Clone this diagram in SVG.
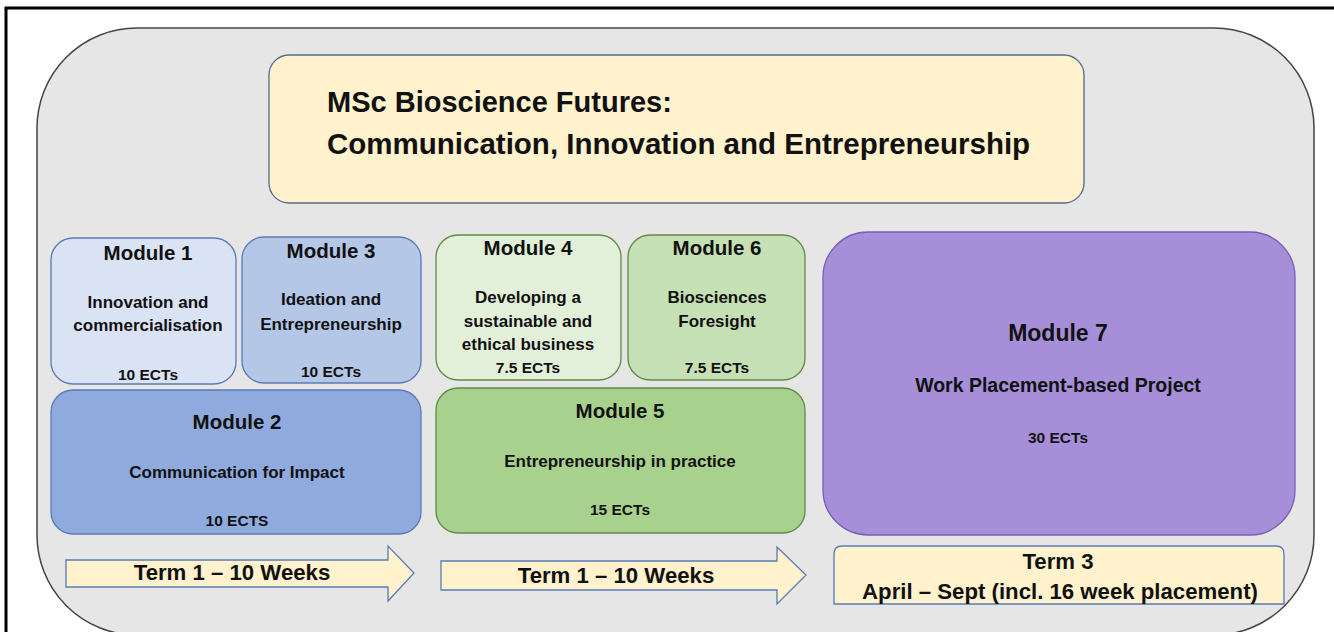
<svg xmlns="http://www.w3.org/2000/svg" width="1334" height="632" viewBox="0 0 1334 632">
<style>
text{font-family:"Liberation Sans",Arial,sans-serif;font-weight:bold;fill:#111;text-anchor:middle}
.h{font-size:20.5px}
.b{font-size:17px}
.e{font-size:15.5px}
.t{font-size:22.2px}
.blue{stroke:#5a7bb5;stroke-width:1.3}
.green{stroke:#5f8a47;stroke-width:1.3}
</style>
<rect x="0" y="0" width="1334" height="632" fill="#fff"/>
<rect x="6" y="8" width="1340" height="640" fill="none" stroke="#000" stroke-width="3"/>
<rect id="background" x="37" y="28" width="1277" height="607" rx="100" fill="#e6e6e6" stroke="#444" stroke-width="1.5"/>
<g id="title">
<rect x="269" y="55" width="815" height="148" rx="20" fill="#fff2cc" stroke="#55698c" stroke-width="1.3"/>
<text x="327" y="112" style="font-size:29px;text-anchor:start">MSc Bioscience Futures:</text>
<text x="327" y="154" style="font-size:29.5px;text-anchor:start">Communication, Innovation and Entrepreneurship</text>
</g>
<g id="module1">
<rect x="51" y="238" width="185" height="146" rx="22" fill="#dae3f3" class="blue"/>
<text x="148" y="260" class="h">Module 1</text>
<text x="148" y="308" class="b">Innovation and</text>
<text x="148" y="331" class="b">commercialisation</text>
<text x="148" y="380" class="e">10 ECTs</text>
</g>
<g id="module3">
<rect x="242" y="237" width="179" height="146" rx="22" fill="#b4c7e7" class="blue"/>
<text x="331" y="258" class="h">Module 3</text>
<text x="331" y="305" class="b">Ideation and</text>
<text x="331" y="330" class="b">Entrepreneurship</text>
<text x="331" y="377" class="e">10 ECTs</text>
</g>
<g id="module2">
<rect x="51" y="390" width="370" height="144" rx="22" fill="#8faadc" class="blue"/>
<text x="237" y="429" class="h">Module 2</text>
<text x="237" y="478" class="b">Communication for Impact</text>
<text x="237" y="526" class="e">10 ECTS</text>
</g>
<g id="module4">
<rect x="436" y="235" width="185" height="145" rx="22" fill="#e2f0d9" class="green"/>
<text x="528" y="255" class="h">Module 4</text>
<text x="528" y="303" class="b">Developing a</text>
<text x="528" y="327" class="b">sustainable and</text>
<text x="528" y="350" class="b">ethical business</text>
<text x="528" y="373" class="e">7.5 ECTs</text>
</g>
<g id="module6">
<rect x="628" y="235" width="177" height="145" rx="22" fill="#c5e0b4" class="green"/>
<text x="717" y="255" class="h">Module 6</text>
<text x="717" y="303" class="b">Biosciences</text>
<text x="717" y="327" class="b">Foresight</text>
<text x="717" y="373" class="e">7.5 ECTs</text>
</g>
<g id="module5">
<rect x="436" y="388" width="369" height="145" rx="22" fill="#a9d18e" class="green"/>
<text x="620" y="418" class="h">Module 5</text>
<text x="620" y="467" class="b">Entrepreneurship in practice</text>
<text x="620" y="515" class="e">15 ECTs</text>
</g>
<g id="module7">
<rect x="823" y="232" width="472" height="303" rx="45" fill="#a68fd8" stroke="#7a5cb5" stroke-width="1.3"/>
<text x="1058" y="341" style="font-size:23px">Module 7</text>
<text x="1058" y="392" style="font-size:19.5px">Work Placement-based Project</text>
<text x="1058" y="443" class="e">30 ECTs</text>
</g>
<g id="term1a">
<path d="M66 560 H388 V546 L414 573 L388 601 V587 H66 Z" fill="#fff2cc" stroke="#5a7bb5" stroke-width="1.3"/>
<text x="232" y="580" class="t">Term 1 – 10 Weeks</text>
</g>
<g id="term1b">
<path d="M441 561 H777 V547 L806 575 L777 604 V590 H441 Z" fill="#fff2cc" stroke="#5a7bb5" stroke-width="1.3"/>
<text x="616" y="583" class="t">Term 1 – 10 Weeks</text>
</g>
<g id="term3">
<path d="M834 604 V554 Q834 546 842 546 H1276 Q1284 546 1284 554 V604 Z" fill="#fff2cc" stroke="#5a7bb5" stroke-width="1.3"/>
<text x="1058" y="569" class="t">Term 3</text>
<text x="1060" y="599" class="t">April – Sept (incl. 16 week placement)</text>
</g>
<g id="connectors"></g>
</svg>
